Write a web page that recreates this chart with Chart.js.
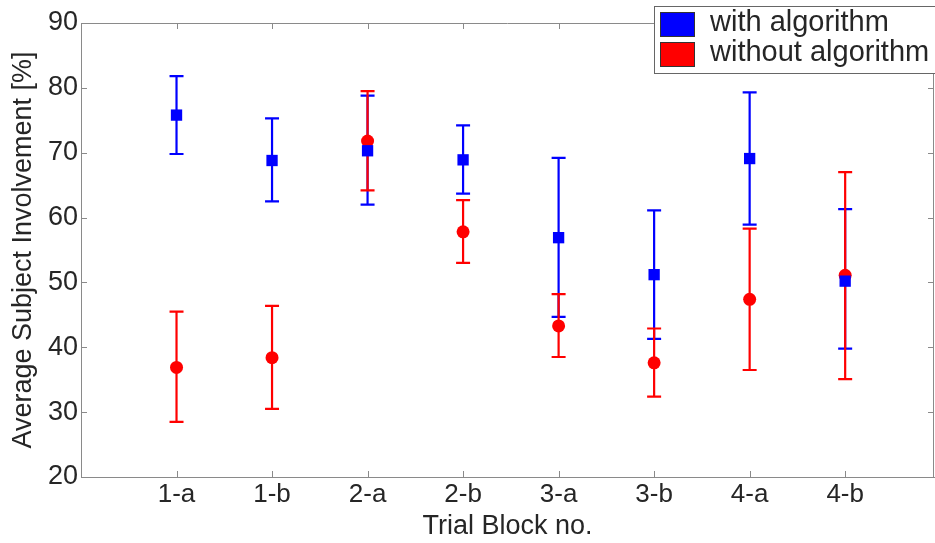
<!DOCTYPE html>
<html>
<head>
<meta charset="utf-8">
<script src="https://cdn.jsdelivr.net/npm/chart.js@4/dist/chart.umd.min.js"></script>
<style>
  html, body { margin: 0; padding: 0; background: #fff; }
  #grafico { display: block; }
</style>
</head>
<body>
<canvas id="grafico" width="935" height="543"></canvas>
<script>
// trial blocks on the x axis
const bloques = ['1-a', '1-b', '2-a', '2-b', '3-a', '3-b', '4-a', '4-b'];

// with algorithm: mean and error bar ends (%)
const conMedia = [75.8, 68.8, 70.3, 68.9, 56.9, 51.2, 69.1, 50.2];
const conMin   = [69.8, 62.5, 62.0, 63.7, 44.7, 41.3, 58.9, 39.8];
const conMax   = [81.8, 75.3, 78.8, 74.2, 69.2, 61.1, 79.3, 61.3];

// without algorithm
const sinMedia = [36.9, 38.4, 71.8, 57.8, 43.3, 37.6, 47.4, 51.1];
const sinMin   = [28.5, 30.5, 64.2, 53.0, 38.5, 32.4, 36.5, 35.1];
const sinMax   = [45.5, 46.4, 79.5, 62.7, 48.2, 42.9, 58.3, 67.0];

const yTicks = [20, 30, 40, 50, 60, 70, 80, 90];

const AZUL = '#0000ff';
const ROJO = '#ff0000';
const EJE = '#8a8a8a';
const TEXTO = '#262626';
const FUENTE = '"Liberation Sans", Arial, sans-serif';

const puntos = (medias) => medias.map((v, i) => ({ x: i + 1, y: v }));

// error bars, inward ticks, box and legend
const extras = {
  id: 'extras',
  beforeDatasetsDraw(chart) {
    const { ctx, scales: { x, y } } = chart;
    const barras = (mins, maxs, color) => {
      ctx.save();
      ctx.strokeStyle = color;
      ctx.lineWidth = 2.2;
      mins.forEach((lo, i) => {
        const px = x.getPixelForValue(i + 1);
        const pLo = y.getPixelForValue(lo);
        const pHi = y.getPixelForValue(maxs[i]);
        ctx.beginPath();
        ctx.moveTo(px, pLo); ctx.lineTo(px, pHi);
        ctx.moveTo(px - 7, pLo); ctx.lineTo(px + 7, pLo);
        ctx.moveTo(px - 7, pHi); ctx.lineTo(px + 7, pHi);
        ctx.stroke();
      });
      ctx.restore();
    };
    barras(conMin, conMax, AZUL);
    barras(sinMin, sinMax, ROJO);
  },
  afterDraw(chart) {
    const { ctx, chartArea: a, scales: { x, y } } = chart;
    ctx.save();
    ctx.strokeStyle = EJE;
    ctx.lineWidth = 1;
    // top and right sides of the box
    ctx.beginPath();
    ctx.moveTo(a.left, a.top + 0.5); ctx.lineTo(a.right, a.top + 0.5);
    ctx.moveTo(a.right - 0.5, a.top); ctx.lineTo(a.right - 0.5, a.bottom);
    ctx.stroke();
    // inward tick marks
    ctx.beginPath();
    bloques.forEach((b, i) => {
      const px = Math.round(x.getPixelForValue(i + 1)) + 0.5;
      ctx.moveTo(px, a.bottom); ctx.lineTo(px, a.bottom - 6);
      ctx.moveTo(px, a.top); ctx.lineTo(px, a.top + 6);
    });
    yTicks.forEach(v => {
      const py = Math.round(y.getPixelForValue(v)) + 0.5;
      ctx.moveTo(a.left, py); ctx.lineTo(a.left + 6, py);
      ctx.moveTo(a.right, py); ctx.lineTo(a.right - 6, py);
    });
    ctx.stroke();

    // legend
    const lx = 654, ly = 6;
    ctx.fillStyle = '#fff';
    ctx.fillRect(lx, ly, 300, 67);
    ctx.strokeStyle = '#666';
    ctx.strokeRect(lx + 0.5, ly + 0.5, 300, 67);
    const items = [
      { txt: 'with algorithm', color: AZUL, top: 12 },
      { txt: 'without algorithm', color: ROJO, top: 42 }
    ];
    ctx.font = '29px ' + FUENTE;
    ctx.textBaseline = 'middle';
    items.forEach(it => {
      ctx.fillStyle = it.color;
      ctx.fillRect(lx + 6, it.top, 34, 24);
      ctx.strokeStyle = '#333';
      ctx.strokeRect(lx + 6.5, it.top + 0.5, 34, 24);
      ctx.fillStyle = TEXTO;
      ctx.fillText(it.txt, lx + 56, it.top + 11);
    });
    ctx.restore();
  }
};

new Chart(document.getElementById('grafico').getContext('2d'), {
  type: 'scatter',
  data: {
    datasets: [
      {
        label: 'with algorithm',
        data: puntos(conMedia),
        backgroundColor: AZUL,
        borderColor: AZUL,
        pointStyle: 'rect',
        pointRadius: 8,
        borderWidth: 0
      },
      {
        label: 'without algorithm',
        data: puntos(sinMedia),
        backgroundColor: ROJO,
        borderColor: ROJO,
        pointStyle: 'circle',
        pointRadius: 6.5,
        borderWidth: 0
      }
    ]
  },
  options: {
    responsive: false,
    animation: false,
    layout: { autoPadding: false, padding: { top: 23, right: 1, left: 0, bottom: 0 } },
    plugins: { legend: { display: false }, tooltip: { enabled: false } },
    scales: {
      x: {
        type: 'linear',
        min: 0,
        max: 8.93,
        afterFit: s => { s.height = 66; s.paddingLeft = 0; s.paddingRight = 0; },
        afterBuildTicks: s => { s.ticks = bloques.map((b, i) => ({ value: i + 1 })); },
        ticks: {
          callback: v => bloques[v - 1] ?? '',
          color: TEXTO,
          font: { family: FUENTE, size: 26 },
          padding: 2,
          maxRotation: 0,
          autoSkip: false
        },
        grid: { display: false, drawTicks: false },
        border: { display: true, color: EJE, width: 1 },
        title: {
          display: true,
          text: 'Trial Block no.',
          color: TEXTO,
          font: { family: FUENTE, size: 27 },
          padding: 0
        }
      },
      y: {
        min: 20,
        max: 90,
        afterFit: s => { s.width = 81; },
        afterBuildTicks: s => { s.ticks = yTicks.map(v => ({ value: v })); },
        ticks: {
          color: TEXTO,
          font: { family: FUENTE, size: 27 },
          padding: 3
        },
        grid: { display: false, drawTicks: false },
        border: { display: true, color: EJE, width: 1 },
        title: {
          display: true,
          text: 'Average Subject Involvement [%]',
          color: TEXTO,
          font: { family: FUENTE, size: 27 },
          padding: { top: 7, bottom: 0 }
        }
      }
    }
  },
  plugins: [extras]
});
</script>
</body>
</html>
